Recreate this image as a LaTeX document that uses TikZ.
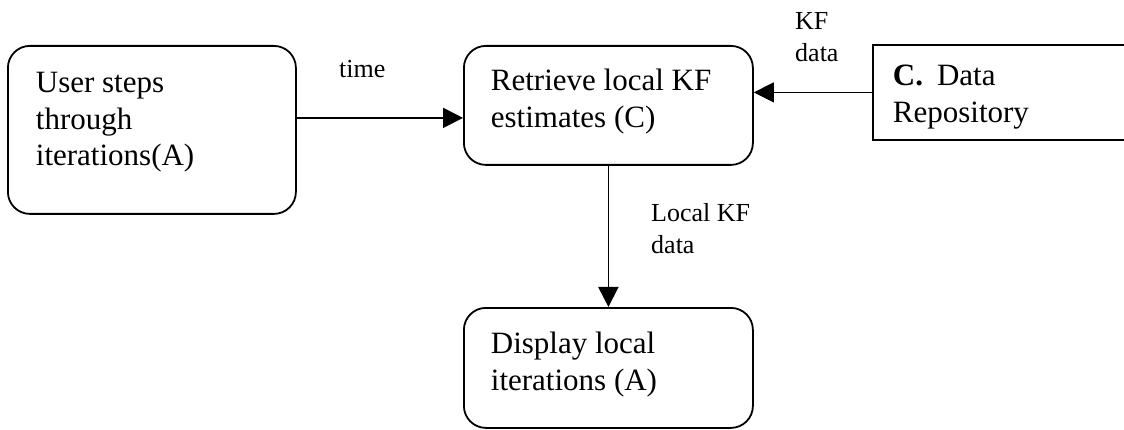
\documentclass[tikz,border=0pt]{standalone}
\usepackage{fontspec}
\setmainfont{Liberation Serif}
\usetikzlibrary{arrows.meta}
\newcommand\mainsz{\fontsize{31}{36.5}\selectfont}
\newcommand\smallsz{\fontsize{26}{31.5}\selectfont}
% #1 height, #2 width, #3 left indent, #4 first baseline offset, #5 text
\newcommand\inbox[5]{\parbox[c][#1][t]{#2}{\mainsz\raggedright\leftskip=#3\relax\rule{0pt}{#4}#5}}
\tikzset{
  procbox/.style={draw, line width=1.8pt, rounded corners=22pt, inner sep=0pt, anchor=north west},
  storebox/.style={draw, line width=1.8pt, inner sep=0pt, anchor=north west},
  arr/.style={line width=1.8pt, -{Triangle[length=20pt,width=20pt]}},
  thinarr/.style={line width=1pt, -{Triangle[length=20pt,width=20pt]}},
  lbl/.style={inner sep=0pt, font=\smallsz, anchor=base west}
}
\begin{document}
\begin{tikzpicture}[x=1pt,y=1pt]
\useasboundingbox (0,0) rectangle (1124,-430);
\node[procbox] (A) at (7,-45) {\inbox{168pt}{288pt}{28pt}{47pt}{User steps\\through\\iterations(A)}};
\node[procbox] (C) at (463,-45) {\inbox{119pt}{289pt}{27pt}{45pt}{Retrieve local KF\\estimates (C)}};
\node[procbox] (D) at (463,-307) {\inbox{120pt}{289pt}{27pt}{46pt}{Display local\\iterations (A)}};
\node[storebox] (R) at (872,-44) {\inbox{95pt}{272pt}{20pt}{41pt}{\textbf{C.}\hspace{14pt}Data\\Repository}};
\draw[arr] ([yshift=12pt]A.east) -- ([yshift=12pt]A.east -| C.west);
\draw[thinarr] (R.west) -- (R.west -| C.east);
\draw[arr] (C.south) -- (D.north);
\node[lbl] (tl) at (339,-78) {time};
\node[lbl] (kfl) at (795,-30) {\begin{tabular}[t]{@{}l@{}}KF\\data\end{tabular}};
\node[lbl] (ll) at (651,-222) {\begin{tabular}[t]{@{}l@{}}Local KF\\data\end{tabular}};
\end{tikzpicture}
\end{document}
